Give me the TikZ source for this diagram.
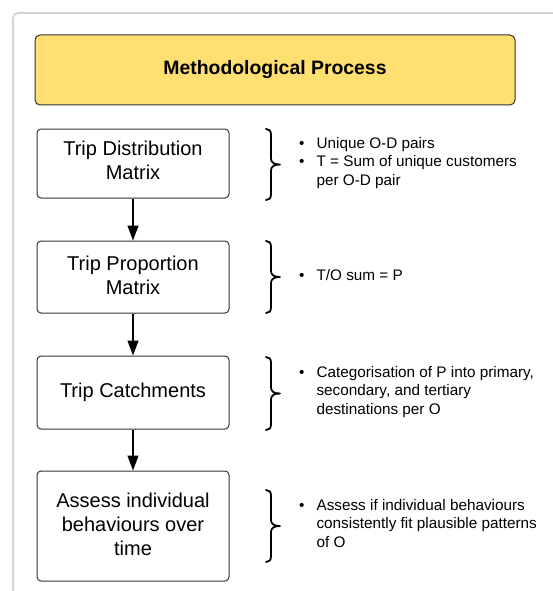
\documentclass[tikz,border=0pt]{standalone}
\usepackage{fontspec}
\setmainfont{Liberation Sans}
\usetikzlibrary{arrows.meta,calc}
\definecolor{titlefill}{HTML}{FFDE72}
\definecolor{framegray}{HTML}{D4D4D4}
\definecolor{boxline}{HTML}{333333}
\newcommand\curlybrace[3]{% #1 name, #2 top y, #3 bottom y
  \pgfmathsetmacro\bmid{(#2+#3)/2}
  \coordinate (#1) at (280,\bmid);
  \draw[bracel] (266,#2) .. controls (269,#2) and (271,#2+1.5) .. (271,#2+6)
    -- (271,\bmid-6) .. controls (271,\bmid-2) and (274,\bmid) .. (280,\bmid)
    .. controls (274,\bmid) and (271,\bmid+2) .. (271,\bmid+6)
    -- (271,#3-6) .. controls (271,#3-1.5) and (269,#3) .. (266,#3);
}
\begin{document}
\begin{tikzpicture}[x=1pt,y=-1pt,
  stepbox/.style={draw=boxline, line width=1pt, rounded corners=4pt, minimum width=192pt, align=center, inner sep=0pt, font=\fontsize{20}{24}\selectfont},
  titlebox/.style={draw=boxline, line width=1pt, fill=titlefill, rounded corners=5pt, minimum width=480pt, minimum height=70pt, font=\bfseries\fontsize{19.4}{23}\selectfont},
  flow/.style={line width=1.3pt, -{Triangle[width=11pt,length=15pt]}},
  bracel/.style={line width=1.8pt, line cap=round, line join=round},
  desc/.style={anchor=west, inner sep=0pt, font=\fontsize{15.3}{18.5}\selectfont},
  lbl/.style={inner sep=0pt, align=center, font=\fontsize{20}{24}\selectfont}
]
\useasboundingbox (0,0) rectangle (552,591);
\fill[white] (0,0) rectangle (552,591);
\draw[framegray, line width=2pt, rounded corners=5pt] (13,600) -- (13,13) -- (560,13);

\node[titlebox] (title) at (275,70) {Methodological Process};

\node[stepbox, minimum height=69pt] (b1) at (133,163.5) {};
\node[stepbox, minimum height=72pt] (b2) at (133,277) {};
\node[stepbox, minimum height=73pt] (b3) at (133,392.5) {};
\node[stepbox, minimum height=110pt] (b4) at (133,526) {};
\node[lbl] (l1) at ($(b1.center)+(0,-3)$) {Trip Distribution\\Matrix};
\node[lbl] (l2) at ($(b2.center)+(0,-2)$) {Trip Proportion\\Matrix};
\node[lbl] (l3) at (b3.center) {Trip Catchments};
\node[lbl] (l4) at ($(b4.center)+(0,-2)$) {Assess individual\\behaviours over\\time};

\draw[flow] (b1) -- (b2);
\draw[flow] (b2) -- (b3);
\draw[flow] (b3) -- (b4);

\curlybrace{k1}{129}{200}
\curlybrace{k2}{241}{313}
\curlybrace{k3}{357}{430}
\curlybrace{k4}{490}{562}

\node[desc] (d1) at (299,163) {\begin{tabular}{@{}l@{\hspace{12pt}}l@{}}\textbullet & Unique O-D pairs\\ \textbullet & T = Sum of unique customers\\ & per O-D pair\end{tabular}};
\node[desc] (d2) at (299,277) {\begin{tabular}{@{}l@{\hspace{12pt}}l@{}}\textbullet & T/O sum = P\end{tabular}};
\node[desc] (d3) at (299,392) {\begin{tabular}{@{}l@{\hspace{12pt}}l@{}}\textbullet & Categorisation of P into primary,\\ & secondary, and tertiary\\ & destinations per O\end{tabular}};
\node[desc] (d4) at (299,525) {\begin{tabular}{@{}l@{\hspace{12pt}}l@{}}\textbullet & Assess if individual behaviours\\ & consistently fit plausible patterns\\ & of O\end{tabular}};
\end{tikzpicture}
\end{document}
